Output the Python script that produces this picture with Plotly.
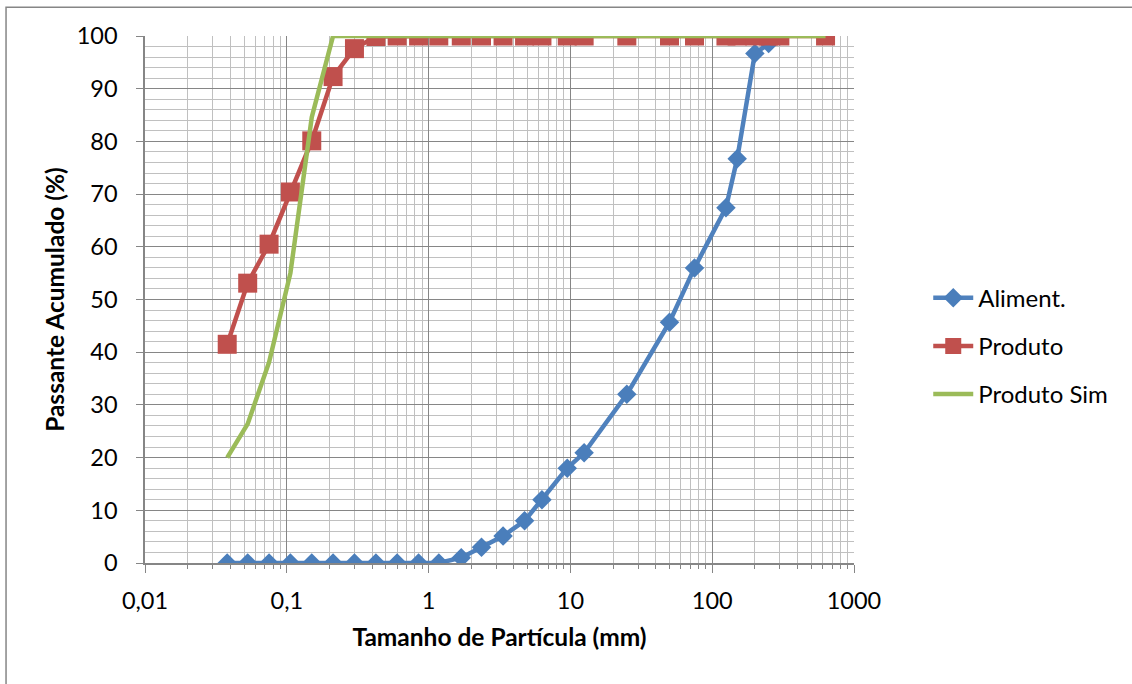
import plotly.graph_objects as go

# Sieve openings (mm)
tamanho = [0.038, 0.053, 0.075, 0.106, 0.15, 0.212, 0.3, 0.425, 0.6, 0.85,
           1.18, 1.7, 2.36, 3.35, 4.75, 6.3, 9.5, 12.5, 25, 50, 75,
           125, 150, 200, 250, 300, 630]

# Cumulative passing (%)
aliment = [0, 0, 0, 0, 0, 0, 0, 0, 0, 0,
           0, 1.0, 3.0, 5.1, 8.0, 12.0, 18.0, 20.9, 32.0, 45.7, 56.0,
           67.4, 76.7, 96.7, 98.6, 100]
produto = [41.5, 53.1, 60.5, 70.4, 80.1, 92.3, 97.6, 99.9, 100, 100,
           100, 100, 100, 100, 100, 100, 100, 100, 100, 100, 100,
           100, 100, 100, 100, 100, 100]
produto_sim = [20.0, 26.4, 38.1, 55.0, 84.6, 100, 100, 100, 100, 100,
               100, 100, 100, 100, 100, 100, 100, 100, 100, 100, 100,
               100, 100, 100, 100, 100, 100]

x_ticks = [0.01, 0.1, 1, 10, 100, 1000]
x_tick_text = ["0,01", "0,1", "1", "10", "100", "1000"]
x_minor = [k * 10 ** d for d in range(-2, 3) for k in range(2, 10)]

FONT = "Lato, Calibri, 'Noto Sans', sans-serif"
MAJOR = "#868686"
MINOR = "#C0C0C0"

fig = go.Figure()
fig.add_trace(go.Scatter(
    x=tamanho[:len(aliment)], y=aliment, name="Aliment.", legendgroup="a",
    mode="lines+markers",
    line=dict(color="#4F81BD", width=4.5),
    marker=dict(symbol="diamond", size=15, color="#4A7EBB"),
))
fig.add_trace(go.Scatter(
    x=tamanho, y=produto, name="Produto", legendgroup="b",
    mode="lines+markers",
    line=dict(color="#C0504D", width=4.5),
    marker=dict(symbol="square", size=19, color="#C0504D"),
))
fig.add_trace(go.Scatter(
    x=tamanho, y=produto_sim, name="Produto Sim", legendgroup="c",
    mode="lines",
    line=dict(color="#9BBB59", width=4.5),
))

fig.update_xaxes(
    type="log", range=[-2, 3],
    tickvals=x_ticks, ticktext=x_tick_text,
    ticks="outside", ticklen=8, tickcolor=MAJOR, tickwidth=1,
    ticklabelstandoff=8,
    showline=True, linecolor=MAJOR, linewidth=1.5,
    showgrid=True, gridcolor=MAJOR, gridwidth=1.2,
    minor=dict(tickvals=x_minor, showgrid=True, gridcolor=MINOR, gridwidth=1,
               ticks="outside", ticklen=4, tickcolor=MAJOR),
    tickfont=dict(family=FONT, size=23.5, color="black"),
    title=dict(text="<b>Tamanho de Partícula (mm)</b>",
               font=dict(family=FONT, size=24.5, color="black"), standoff=16),
    zeroline=False,
)
fig.update_yaxes(
    range=[0, 100], dtick=10,
    ticks="outside", ticklen=7, tickcolor=MAJOR, tickwidth=1,
    ticklabelstandoff=14,
    showline=True, linecolor=MAJOR, linewidth=1.5,
    showgrid=True, gridcolor=MAJOR, gridwidth=1.2,
    minor=dict(dtick=2, showgrid=True, gridcolor=MINOR, gridwidth=1),
    tickfont=dict(family=FONT, size=23.5, color="black"),
    title=dict(text="<b>Passante Acumulado (%)</b>",
               font=dict(family=FONT, size=24.5, color="black"), standoff=5),
    zeroline=False,
)

# Chart-area frame
fig.add_shape(type="rect", xref="paper", yref="paper",
              x0=-0.196, x1=1.41, y0=-0.3, y1=1.0545,
              line=dict(color=MAJOR, width=1.5), layer="below")

fig.update_layout(
    width=1132, height=684,
    margin=dict(l=144.5, r=277.5, t=35.7, b=121.3, pad=0),
    paper_bgcolor="white", plot_bgcolor="white",
    font=dict(family=FONT, color="black"),
    separators=",.",
    legend=dict(
        xref="container", yref="container",
        x=0.82, y=0.494, xanchor="left", yanchor="middle",
        font=dict(family=FONT, size=24, color="black"),
        tracegroupgap=14, itemwidth=40,
        bgcolor="rgba(0,0,0,0)",
    ),
)

fig.write_html("out.html")
